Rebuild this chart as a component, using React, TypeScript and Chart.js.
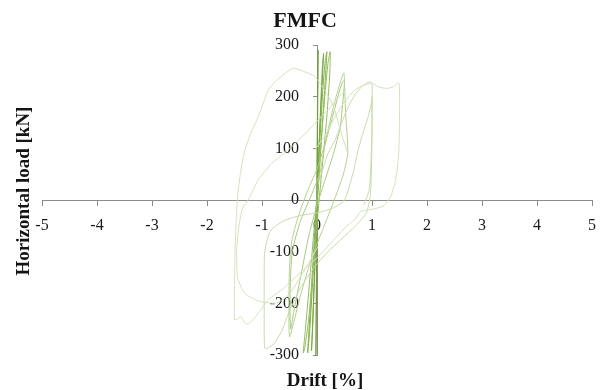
import React, { useEffect, useRef } from "react";
import { Chart, registerables } from "chart.js";

Chart.register(...registerables);

const TITLE = "FMFC";
const X_TITLE = "Drift [%]";
const Y_TITLE = "Horizontal load [kN]";

const xTickValues = [-5, -4, -3, -2, -1, 0, 1, 2, 3, 4, 5];
const yTickValues = [-300, -200, -100, 0, 100, 200, 300];

// [drift %, load kN]
const axisCycle: [number, number][] = [
  [0, 0], [0.01, 140], [0.02, 290], [0.01, 200], [0, 60], [-0.01, -120], [-0.02, -300], [-0.01, -200], [0, -60], [0.01, 0],
];
const smallCycle1: [number, number][] = [
  [0, 0], [0.03, 90], [0.07, 190], [0.1, 260], [0.12, 284], [0.1, 240], [0.05, 130], [0.01, 30], [-0.02, -60],
  [-0.05, -160], [-0.08, -250], [-0.1, -292], [-0.08, -240], [-0.04, -130], [0, -20], [0.02, 40],
];
const smallCycle2: [number, number][] = [
  [0.02, 40], [0.06, 130], [0.11, 220], [0.15, 270], [0.18, 287], [0.16, 250], [0.1, 150], [0.04, 50], [-0.02, -50],
  [-0.08, -160], [-0.13, -250], [-0.17, -296], [-0.15, -260], [-0.09, -150], [-0.03, -40], [0.01, 20],
];
const smallCycle3: [number, number][] = [
  [0.01, 20], [0.08, 120], [0.15, 210], [0.2, 265], [0.24, 287], [0.23, 240], [0.17, 150], [0.1, 70], [0.03, -10],
  [-0.06, -120], [-0.15, -230], [-0.22, -285], [-0.25, -296], [-0.21, -250], [-0.12, -140], [-0.04, -40], [0.02, 30],
];
const midCycle1: [number, number][] = [
  [0.02, 30], [0.1, 80], [0.2, 135], [0.3, 180], [0.4, 220], [0.46, 240], [0.49, 246], [0.52, 170], [0.56, 91],
  [0.48, 50], [0.35, 10], [0.15, -45], [0, -85], [-0.15, -130], [-0.3, -185], [-0.42, -235], [-0.5, -265],
  [-0.51, -200], [-0.5, -130], [-0.46, -80], [-0.35, -35], [-0.2, 10], [0, 60],
];
const midCycle2: [number, number][] = [
  [0, 60], [0.15, 110], [0.28, 160], [0.38, 200], [0.45, 225], [0.5, 232], [0.47, 190], [0.42, 140], [0.3, 90],
  [0.15, 40], [0, -10], [-0.15, -70], [-0.3, -150], [-0.42, -215], [-0.48, -250], [-0.49, -180], [-0.45, -100],
  [-0.3, -40], [-0.1, 10], [0.05, 50],
];
const oneCycle: [number, number][] = [
  [0.05, 40], [0.2, 90], [0.33, 116], [0.45, 150], [0.57, 181], [0.7, 205], [0.81, 219], [0.9, 226], [0.96, 229],
  [1.0, 226], [1.0, 180], [1.0, 120], [0.99, 60], [0.97, 10], [0.9, -25], [0.7, -50], [0.45, -75], [0.2, -100],
  [-0.05, -130], [-0.3, -170], [-0.5, -215], [-0.65, -255], [-0.78, -278], [-0.88, -286], [-0.95, -287],
  [-0.96, -230], [-0.96, -160], [-0.95, -100], [-0.85, -60], [-0.6, -40], [-0.3, -30], [0, -25], [0.3, -15],
  [0.5, 0], [0.65, 50], [0.75, 97], [0.85, 135], [0.93, 161], [1.0, 193], [1.0, 200], [1.0, 140], [0.98, 70],
  [0.95, 20], [0.85, -10],
];
const outerCycle: [number, number][] = [
  [-0.04, 97], [0.15, 125], [0.33, 161], [0.5, 190], [0.69, 213], [0.85, 222], [1.0, 226], [1.11, 219], [1.27, 216],
  [1.39, 219], [1.48, 227], [1.5, 220], [1.5, 160], [1.49, 100], [1.46, 60], [1.4, 25], [1.33, 5], [1.2, -12],
  [1.0, -18], [0.8, -22], [0.69, -37], [0.5, -55], [0.27, -81], [0.02, -110], [-0.3, -140], [-0.6, -170],
  [-0.9, -195], [-1.13, -228], [-1.25, -240], [-1.31, -238], [-1.38, -226], [-1.45, -230], [-1.5, -232],
  [-1.5, -170], [-1.49, -100], [-1.47, -40], [-1.44, 10], [-1.38, 60], [-1.31, 97], [-1.2, 130], [-1.07, 161],
  [-0.95, 195], [-0.885, 213], [-0.76, 229], [-0.58, 245], [-0.43, 255], [-0.22, 248], [-0.04, 239], [0.05, 226],
  [0.18, 206], [0.3, 181], [0.4, 145], [0.48, 116], [0.56, 90],
];
const secondOuterCycle: [number, number][] = [
  [0.02, -90], [-0.25, -140], [-0.52, -184], [-0.76, -200], [-1.07, -195], [-1.31, -181], [-1.44, -152],
  [-1.46, -100], [-1.42, -50], [-1.35, -15], [-1.25, 0], [-1.07, 39], [-0.82, 71], [-0.46, 103], [-0.04, 148],
  [0.2, 175], [0.4, 200], [0.5, 210],
];

const cycles = [
  { data: outerCycle, color: "#d2e2bd" },
  { data: secondOuterCycle, color: "#d2e2bd" },
  { data: oneCycle, color: "#c6dba9" },
  { data: midCycle1, color: "#b5d08f" },
  { data: midCycle2, color: "#a9c97e" },
  { data: smallCycle3, color: "#93bb5e" },
  { data: smallCycle2, color: "#82b04a" },
  { data: smallCycle1, color: "#76a83c" },
  { data: axisCycle, color: "#6f9f34" },
];

const textPlugin = {
  id: "customTexts",
  afterDraw(chart: any) {
    const ctx = chart.ctx as CanvasRenderingContext2D;
    ctx.save();
    ctx.fillStyle = "#141414";
    ctx.textAlign = "center";
    ctx.textBaseline = "alphabetic";
    ctx.font = 'bold 22px "Liberation Serif"';
    ctx.fillText(TITLE, 305, 27);
    ctx.font = 'bold 19px "Liberation Serif"';
    ctx.fillText(X_TITLE, 325, 386);
    ctx.translate(29, 191);
    ctx.rotate(-Math.PI / 2);
    ctx.fillText(Y_TITLE, 0, 0);
    ctx.restore();
  },
};

export default function App() {
  const ref = useRef<HTMLCanvasElement>(null);
  useEffect(() => {
    const chart = new Chart(ref.current!, {
      type: "scatter",
      data: {
        datasets: cycles.map((c) => ({
          data: c.data.map(([x, y]) => ({ x, y })),
          showLine: true,
          borderColor: c.color,
          backgroundColor: c.color,
          borderWidth: 1,
          pointRadius: 0,
          tension: 0.2,
          fill: false,
        })),
      },
      options: {
        responsive: false,
        devicePixelRatio: 1,
        animation: false,
        layout: { padding: { left: 42, right: 9, top: 45, bottom: 35 } },
        plugins: {
          legend: { display: false },
          tooltip: { enabled: false },
          title: { display: false },
        },
        scales: {
          x: {
            type: "linear",
            position: "center",
            min: -5,
            max: 5,
            afterBuildTicks: (axis: any) => {
              axis.ticks = xTickValues.map((v) => ({ value: v }));
            },
            afterFit: (axis: any) => {
              axis.paddingLeft = 0;
              axis.paddingRight = 0;
            },
            ticks: {
              autoSkip: false,
              maxRotation: 0,
              padding: 11,
              color: "#1a1a1a",
              font: { family: '"Liberation Serif"', size: 16 },
            },
            grid: { drawOnChartArea: false, drawTicks: true, tickLength: 5, color: "#8c8c8c" },
            border: { display: true, color: "#8c8c8c", width: 1 },
          },
          y: {
            type: "linear",
            position: "center",
            min: -300,
            max: 300,
            afterBuildTicks: (axis: any) => {
              axis.ticks = yTickValues.map((v) => ({ value: v }));
            },
            afterFit: (axis: any) => {
              axis.paddingTop = 0;
              axis.paddingBottom = 0;
            },
            ticks: {
              autoSkip: false,
              padding: 14,
              color: "#1a1a1a",
              font: { family: '"Liberation Serif"', size: 16 },
            },
            grid: { drawOnChartArea: false, drawTicks: true, tickLength: 4, color: "#8c8c8c" },
            border: { display: true, color: "#8c8c8c", width: 1 },
          },
        },
      },
      plugins: [textPlugin],
    });
    return () => chart.destroy();
  }, []);
  return (
    <div style={{ position: "fixed", left: 0, top: 0, width: 601, height: 390, background: "#fff" }}>
      <canvas ref={ref} width={601} height={390} style={{ width: 601, height: 390, display: "block" }} />
    </div>
  );
}
